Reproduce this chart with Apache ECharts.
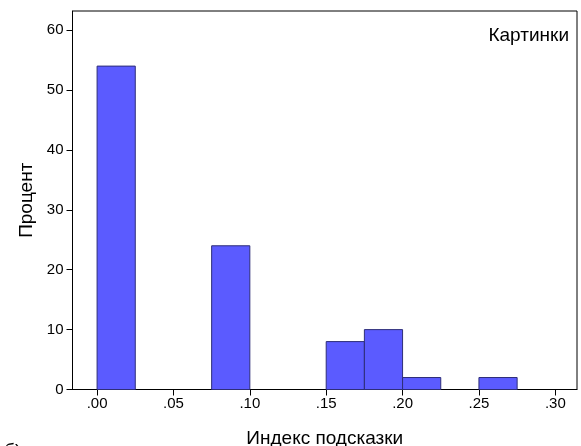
<!DOCTYPE html>
<html><head><meta charset="utf-8">
<script src="https://cdn.jsdelivr.net/npm/echarts@6/dist/echarts.min.js"></script>
<style>html,body{margin:0;padding:0;background:#fff}#c{width:581px;height:446px}</style>
</head><body><div id="c"></div>
<script>
const binStarts = [0.000, 0.075, 0.150, 0.175, 0.200, 0.250];
const binWidth = 0.025;
const percents = [54, 24, 8, 10, 2, 2];
const xTicks = [0, 0.05, 0.10, 0.15, 0.20, 0.25, 0.30];
const xTickLabels = ['.00', '.05', '.10', '.15', '.20', '.25', '.30'];
const yTicks = [0, 10, 20, 30, 40, 50, 60];

const data = binStarts.map((s, i) => [s, s + binWidth, percents[i]]);
const chart = echarts.init(document.getElementById('c'));
const font = 'Liberation Sans, Arial, sans-serif';
chart.setOption({
  animation: false,
  grid: {left: 72.5, right: 4, top: 11, bottom: 56.5, show: true, borderColor: '#000', borderWidth: 1, outerBoundsMode: 'none', containLabel: false},
  xAxis: {
    type: 'value', min: -0.0161, max: 0.3142,
    name: 'Индекс подсказки', nameLocation: 'middle', nameGap: 40,
    nameTextStyle: {fontFamily: font, fontSize: 19, color: '#000'},
    axisLine: {show: true, onZero: false, lineStyle: {color: '#000', width: 1}},
    axisTick: {show: true, length: 6, customValues: xTicks, lineStyle: {color: '#000'}},
    axisLabel: {customValues: xTicks, fontFamily: font, fontSize: 15, color: '#000', margin: 7,
      formatter: v => { const i = xTicks.findIndex(t => Math.abs(t - v) < 1e-9); return i >= 0 ? xTickLabels[i] : ''; }},
    splitLine: {show: false}
  },
  yAxis: {
    type: 'value', min: 0, max: 63.2,
    name: 'Процент', nameLocation: 'middle', nameGap: 34,
    nameTextStyle: {fontFamily: font, fontSize: 19, color: '#000'},
    axisLine: {show: true, onZero: false, lineStyle: {color: '#000', width: 1}},
    axisTick: {show: true, length: 6, customValues: yTicks, lineStyle: {color: '#000'}},
    axisLabel: {customValues: yTicks, fontFamily: font, fontSize: 15, color: '#000', margin: 9},
    splitLine: {show: false}
  },
  series: [{
    type: 'custom',
    data: data,
    renderItem: function (params, api) {
      const p0 = api.coord([api.value(0), api.value(2)]);
      const p1 = api.coord([api.value(1), 0]);
      return {
        type: 'rect',
        shape: {x: p0[0], y: p0[1], width: p1[0] - p0[0], height: p1[1] - p0[1]},
        style: {fill: '#5b5bff', stroke: '#2e2e78', lineWidth: 1}
      };
    },
    encode: {x: [0, 1], y: 2}
  }],
  graphic: [
    {type: 'text', right: 12, top: 26, style: {text: 'Картинки', fontFamily: font, fontSize: 19, fill: '#000'}},
    {type: 'text', left: 4, top: 442, style: {text: 'б)', fontFamily: font, fontSize: 19, fill: '#000'}}
  ]
});
</script></body></html>
